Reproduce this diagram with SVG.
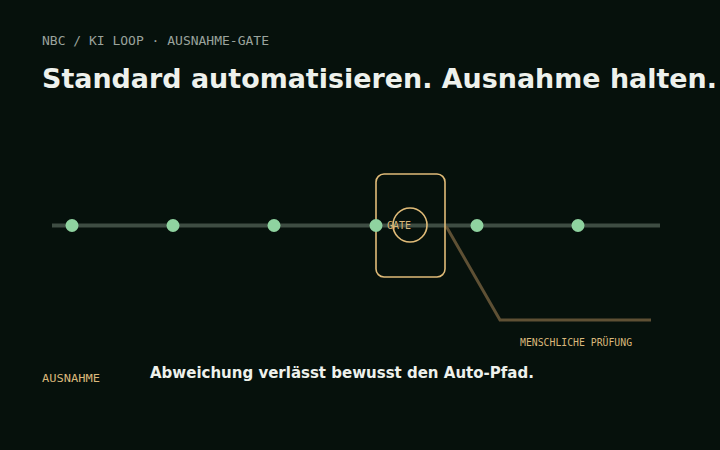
<svg xmlns="http://www.w3.org/2000/svg" width="720" height="450" viewBox="0 0 720 450">
<style>
.mono{font-family:"DejaVu Sans Mono","Liberation Mono",monospace}
.sans{font-family:"DejaVu Sans","Liberation Sans",sans-serif;font-weight:bold}
.dot{fill:#8fd3a0}
.tan{fill:#d9b77a}
</style>
<rect width="720" height="450" fill="#06110c"/>
<text class="mono" x="42" y="45" font-size="13" fill="#9aa39c">NBC / KI LOOP · AUSNAHME-GATE</text>
<text class="sans" x="42" y="88" font-size="27" fill="#eef1ec" textLength="675" lengthAdjust="spacingAndGlyphs">Standard automatisieren. Ausnahme halten.</text>
<g id="connectors">
<line x1="52" y1="225.5" x2="660" y2="225.5" stroke="#3e4d43" stroke-width="4"/>
<polyline points="446,226 500,320 651,320" fill="none" stroke="#5e5034" stroke-width="3"/>
</g>
<g id="gate">
<rect x="376" y="174" width="69" height="103" rx="8" fill="none" stroke="#e0bb78" stroke-width="1.6"/>
<circle cx="410" cy="225" r="17" fill="none" stroke="#e0bb78" stroke-width="1.6"/>
<text class="mono tan" x="387" y="229" font-size="10">GATE</text>
</g>
<g id="nodes">
<circle id="n1" class="dot" cx="72" cy="225.5" r="6.5"/>
<circle id="n2" class="dot" cx="173" cy="225.5" r="6.5"/>
<circle id="n3" class="dot" cx="274" cy="225.5" r="6.5"/>
<circle id="n4" class="dot" cx="376" cy="225.5" r="6.5"/>
<circle id="n5" class="dot" cx="477" cy="225.5" r="6.5"/>
<circle id="n6" class="dot" cx="578" cy="225.5" r="6.5"/>
</g>
<text class="mono tan" x="520" y="346" font-size="9.8">MENSCHLICHE PRÜFUNG</text>
<text class="mono tan" x="42" y="382" font-size="11" textLength="58" lengthAdjust="spacingAndGlyphs">AUSNAHME</text>
<text class="sans" x="150" y="378" font-size="15" fill="#eef1ec">Abweichung verlässt bewusst den Auto-Pfad.</text>
</svg>
